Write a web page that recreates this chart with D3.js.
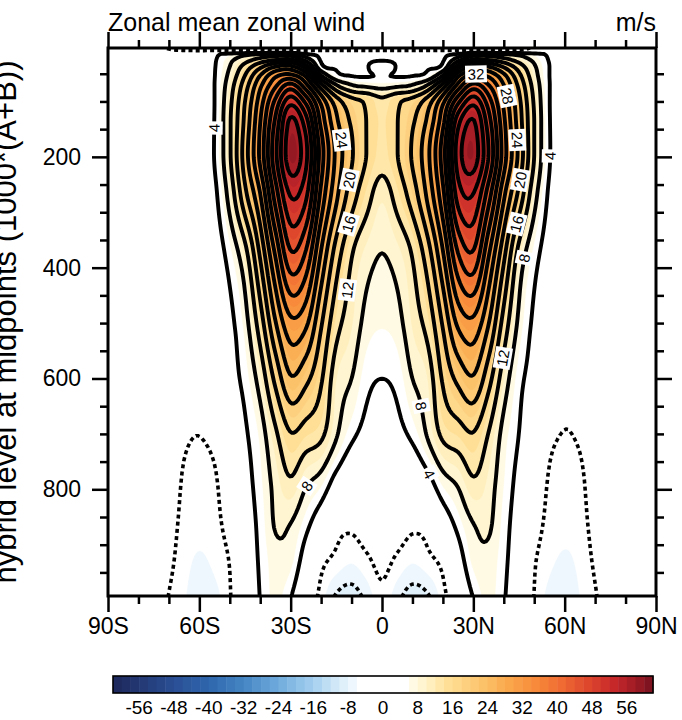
<!DOCTYPE html>
<html><head><meta charset="utf-8">
<script src="https://cdn.jsdelivr.net/npm/d3@7"></script>
<style>
body{margin:0;background:#fff;}
svg{display:block;font-family:"Liberation Sans",Arial,Helvetica,sans-serif;}
</style></head><body>
<svg id="chart" width="682" height="720"></svg>
<script>
// ---------------- DATA ----------------
const levels = [3.54, 7.39, 13.97, 23.94, 37.23, 53.11, 70.06, 100.51, 139.12, 192.54, 266.48, 368.82, 510.46, 600.52, 696.8, 787.7, 867.16, 929.65, 992.56];
const latitudes = [-90,-85,-80,-75,-70,-65,-60,-55,-50,-45,-40,-35,-30,-25,-20,-15,-10,-5,0,5,10,15,20,25,30,35,40,45,50,55,60,65,70,75,80,85,90];
// Southern hemisphere rows: lat 0, -5, ..., -90
const uSouth = [
 [-6,-6,-6,-6,-6,-6,-6,-6,-6,-6,-6,-6,-6,-5.5,-4.5,-2,-1,-0.5,0],
 [-5,-5,-5,-5,-5,-5,-5,-5,-5,-5,-5,-5,-5,-4.5,-3.5,-1.5,-0.5,0,0],
 [2.5,2.5,2.8,3,3.2,3.8,8,8,7.5,6.5,5,3.2,1,0.5,0.3,0.2,0.1,0,0],
 [3.6,3.5,3.0,3.2,3.6,10,16,15,13,10,7,3.6,1,0.5,0.3,0.2,0.1,0,0],
 [5.5,3.85,3.4,3.6,5,18,25,24,19,13.5,8,3.8,1.2,0.6,0.4,0.3,0.2,0.1,0],
 [4.2,3.8,3.9,5,12,27,33,31,24,16,9,3.9,1.2,0.6,0.4,0.3,0.2,0.1,0],
 [6.5,7,8,12,21,33,41,35,27,18,10,4,1.2,0.5,0.3,0.2,0.1,0,0],
 [13,15.5,17.5,22,31,43,50.5,41,30,20,11,4,1.2,0.5,0.3,0.2,0.1,0,0],
 [13.8,15.9,19.5,25,35,50,57,45,32,21,11.5,4.1,1.2,0.5,0.3,0.2,0.1,0,0],
 [13.5,15.9,20.5,27,38,53,58.5,47,33,22,11.5,4.2,1,0.4,0.2,0.1,0,0,0],
 [10.5,13.5,18,25,35,49,52.5,42,28,19,9.5,3.2,0.5,0,0,0,0,0,0],
 [8.1,9.5,12.5,18.5,28,40,44,33,21,11,5.5,2,0,-0.5,-0.3,0,0,0,0],
 [6,6.8,10,13,20,28,30,23,13.5,6.5,3,0.5,-1.5,-1,-0.5,0,0,0,0],
 [4,4.8,8,10,16.5,21,23.5,17,9.5,5,2.5,-0.5,-2.8,-2,-0.8,0,0,0,0],
 [2.5,3,5,8.5,13,14.5,16,11.5,6.5,3.5,0,-2.8,-3.9,-3.3,-1,-0.3,0,0,0],
 [1,0.5,0,2.5,6.5,8.5,11.5,9,5.5,2.5,-1,-4.5,-5.2,-4.5,-1.5,-0.5,0,0,0],
 [-1,-2.2,-3.5,-2.8,1,4.8,7.8,8.2,4.8,1.8,-2.5,-5,-5.6,-5,-2.5,-0.8,-0.2,0,0],
 [-3,-4.6,-5.8,-4.8,-3,2,6.5,7,4.4,1.5,-3.8,-5.6,-6.2,-5.4,-3.2,-1,-0.3,0,0],
 [-4.8,-7.2,-9.2,-8.3,-5,-0.5,4.2,6.5,4.1,1.2,-4.3,-6.6,-7,-5.8,-4.1,-1.5,-0.5,0,0]
];
// Northern hemisphere rows: lat 0, 5, ..., 90
const uNorth = [
 [-6,-6,-6,-6,-6,-6,-6,-6,-6,-5,-3.5,-2,-1,-0.5,0,0,0,0,0],
 [-5,-5,-5,-5,-5,-5,-5,-5,-5,-4.3,-3,-1.5,-0.5,0,0,0,0,0,0],
 [2.5,2.5,2.8,3,3.2,3.8,8,8,7.5,6.5,5,3.3,1,0.5,0.3,0.2,0.1,0,0],
 [3.6,3.5,3.0,3.2,3.6,10,16,15,13,10,7,3.7,1,0.5,0.3,0.2,0.1,0,0],
 [5.5,3.85,3.4,3.6,5,18,25,24,19.5,14,8.5,4,1.2,0.6,0.4,0.3,0.2,0.1,0],
 [4.2,3.8,3.9,5,12,27,33,31,25,17,9.5,4,1.2,0.6,0.4,0.3,0.2,0.1,0],
 [6.5,7,8,12,21,33,41,36,28,19,10.5,4.1,1.2,0.5,0.3,0.2,0.1,0,0],
 [13,15.5,17.5,22,31,43,50.5,42,31,21,11.5,4.1,1.2,0.5,0.3,0.2,0.1,0,0],
 [13.8,15.9,19.5,25,35,51,56.5,46,33,22,12,4.2,1.2,0.5,0.3,0.2,0.1,0,0],
 [13.5,15.9,20.5,27,38,54,58,48,34,23,12,4.3,1,0.4,0.2,0.1,0,0,0],
 [10.5,13.5,18,25,35,50,52,42,29,19,9.5,3.4,0.5,0,0,0,0,0,0],
 [8.1,9.5,12.5,18.5,28,40.5,44,33,21.5,11,5.5,2.2,0,-0.5,-0.3,0,0,0,0],
 [6,6.8,10,13,20,28,30,23.5,14,7,3.2,0.5,-1.5,-1,-0.5,0,0,0,0],
 [4,4.8,8,10,16.5,21,23.5,17.5,10,5,2.5,-0.5,-3.1,-2.2,-0.8,0,0,0,0],
 [2.5,3,5,8.5,13,14.5,16,12,7,4,0.2,-3,-4.05,-3.4,-1,-0.3,0,0,0],
 [1,0.5,0,2.5,6.5,8.5,11.5,9.5,6,2.8,-0.8,-4.4,-5.3,-4.8,-1.8,-0.5,0,0,0],
 [-1,-2.2,-3.5,-2.8,1,4.8,7.8,8.4,5.2,2,-2.3,-5,-5.7,-5.2,-2.8,-0.8,-0.2,0,0],
 [-3,-4.6,-5.8,-4.8,-3,2,6.5,7.2,4.7,1.6,-3.6,-5.6,-6.2,-5.6,-3.5,-1,-0.3,0,0],
 [-4.8,-7.2,-9.2,-8.3,-5,-0.5,4.2,6.6,4.3,1.2,-4.1,-6.6,-7,-6,-4.3,-1.5,-0.5,0,0]
];
const lineLevels = [-8,-4,4,8,12,16,20,24,28,32,36,40,44,48,52,56];
const fillLevels = d3.range(-60, 61, 2);
const labelValues = [4, 24, 20, 16, 12, 8, 32, 28, 24, 20, 16, 4, 8, 12, 8, 4];
const labelLats   = [-54.2, -13.8, -12.2, -12.2, -12.2, -25.3, 31.2, 42, 43.4, 43.4, 42.7, 53.5, 46.3, 40.4, 15.1, 17.4];
const labelPres   = [148, 170, 242, 318, 440, 792, 49, 88, 170, 238, 318, 200, 381, 563, 646, 765];
const xMajor = [-90,-60,-30,0,30,60,90];
const xLabels = ["90S","60S","30S","0","30N","60N","90N"];
const xMinor = [-80,-70,-50,-40,-20,-10,10,20,40,50,70,80];
const yMajor = [200,400,600,800];
const yMinor = [50,100,150,250,300,350,450,500,550,650,700,750,850,900,950];
const cbLabels = [-56,-48,-40,-32,-24,-16,-8,0,8,16,24,32,40,48,56];
const paletteValues = [-61,-48,-40,-32,-24,-16,-11,-9,-7,-5,5,7,11,15,19,23,29,35,41,47,53,57,61];
const paletteColors = ["#1e2a5e","#2a4f95","#2f66ad","#4586c4","#6fabdc","#a5d0ef","#cfe7f7","#e0f0fa","#eef7fd","#ffffff","#ffffff","#fffae3","#ffefbe","#fedf95","#fdd080","#fcc26a","#faa64b","#f78a3b","#ef6b33","#df472d","#c6282a","#a81e26","#7f1420"];

// ---------------- LAYOUT ----------------
const X0 = 108, X1 = 656, Y0 = 48, Y1 = 596;
const FONT = '"Liberation Sans",Arial,Helvetica,sans-serif';
const x = d3.scaleLinear().domain([-90, 90]).range([X0, X1]);
const y = d3.scaleLinear().domain(d3.extent(levels)).range([Y0, Y1]);
const color = d3.scaleLinear().domain(paletteValues).range(paletteColors).interpolate(d3.interpolateRgb);
const svg = d3.select("#chart");

// ---------------- FIELD ON FINE GRID ----------------
const uGrid = levels.map((p, k) => uSouth[k].slice(1).reverse().concat(uNorth[k]));
const nLat = latitudes.length;

function steffenTangents(xs, ys) {
  const n = xs.length, h = [], s = [], m = new Array(n);
  for (let i = 0; i < n - 1; i++) { h[i] = xs[i+1] - xs[i]; s[i] = (ys[i+1] - ys[i]) / h[i]; }
  m[0] = s[0]; m[n-1] = s[n-2];
  for (let i = 1; i < n - 1; i++) {
    const p = (s[i-1]*h[i] + s[i]*h[i-1]) / (h[i-1] + h[i]);
    m[i] = (Math.sign(s[i-1]) + Math.sign(s[i])) * Math.min(Math.abs(s[i-1]), Math.abs(s[i]), 0.5*Math.abs(p));
  }
  return m;
}
function hermite(xs, ys, m, xv) {
  let i = d3.bisectRight(xs, xv) - 1;
  i = Math.max(0, Math.min(xs.length - 2, i));
  const h = xs[i+1] - xs[i], t = Math.max(0, Math.min(1, (xv - xs[i]) / h)), t2 = t*t, t3 = t2*t;
  return (2*t3 - 3*t2 + 1)*ys[i] + (t3 - 2*t2 + t)*h*m[i] + (-2*t3 + 3*t2)*ys[i+1] + (t3 - t2)*h*m[i+1];
}
function catmull(v, f) {
  const n = v.length;
  let i = Math.floor(f); i = Math.max(0, Math.min(n - 2, i));
  const t = f - i;
  const p0 = v[Math.max(i-1, 0)], p1 = v[i], p2 = v[i+1], p3 = v[Math.min(i+2, n-1)];
  return 0.5*((2*p1) + (-p0 + p2)*t + (2*p0 - 5*p1 + 4*p2 - p3)*t*t + (-p0 + 3*p1 - 3*p2 + p3)*t*t*t);
}

const step = 2;
const nx = Math.round((X1 - X0)/step) + 1, ny = Math.round((Y1 - Y0)/step) + 1;
const cols = d3.range(nLat).map(c => levels.map((_, k) => uGrid[k][c]));
const tans = cols.map(col => steffenTangents(levels, col));
const values = new Float64Array(nx*ny);
for (let j = 0; j < ny; j++) {
  const p = y.invert(Y0 + j*step);
  const colv = cols.map((col, c) => hermite(levels, col, tans[c], p));
  for (let i = 0; i < nx; i++) {
    const lat = x.invert(X0 + i*step);
    values[j*nx + i] = catmull(colv, (lat - latitudes[0]) / (latitudes[1] - latitudes[0]));
  }
}

const gen = d3.contours().size([nx, ny]).smooth(true);
const toScreen = (gx, gy) => [X0 + (gx - 0.5)*step, Y0 + (gy - 0.5)*step];
const proj = d3.geoTransform({ point(px, py) { const s = toScreen(px, py); this.stream.point(s[0], s[1]); } });
const path = d3.geoPath(proj);

svg.append("defs").append("clipPath").attr("id", "plotclip")
  .append("rect").attr("x", X0).attr("y", Y0).attr("width", X1 - X0).attr("height", Y1 - Y0);
const plot = svg.append("g").attr("clip-path", "url(#plotclip)");

plot.append("rect").attr("x", X0).attr("y", Y0).attr("width", X1 - X0).attr("height", Y1 - Y0)
  .attr("fill", color(-61));
fillLevels.forEach(t => {
  const mp = gen.contour(values, t);
  if (!mp.coordinates.length) return;
  plot.append("path").attr("d", path(mp)).attr("fill", color(t + 1)).attr("stroke", color(t + 1)).attr("stroke-width", 0.4);
});

// contour lines without the grid border segments
function contourLines(v) {
  const mp = gen.contour(values, v);
  const out = [];
  const onB = (a, b) => (a[0] <= 0 && b[0] <= 0) || (a[0] >= nx && b[0] >= nx) || (a[1] <= 0 && b[1] <= 0) || (a[1] >= ny && b[1] >= ny);
  mp.coordinates.forEach(poly => poly.forEach(ring => {
    const pieces = []; let cur = []; let anyB = false;
    for (let k = 0; k < ring.length - 1; k++) {
      const a = ring[k], b = ring[k+1];
      if (onB(a, b)) { anyB = true; if (cur.length > 1) pieces.push(cur); cur = []; continue; }
      if (!cur.length) cur.push(a);
      cur.push(b);
    }
    if (cur.length > 1) pieces.push(cur);
    if (anyB && pieces.length > 1 && !onB(ring[0], ring[1]) && !onB(ring[ring.length-2], ring[ring.length-1])) {
      const last = pieces.pop();
      pieces[0] = last.concat(pieces[0].slice(1));
    }
    pieces.forEach(pc => out.push(pc.map(q => toScreen(q[0], q[1]))));
  }));
  return out;
}
const lineGen = d3.line();
const linesByValue = new Map();
lineLevels.forEach(v => {
  const ls = contourLines(v);
  linesByValue.set(v, ls);
  ls.forEach(l => {
    plot.append("path").attr("d", lineGen(l)).attr("fill", "none").attr("stroke", "#000")
      .attr("stroke-width", v < 0 ? 3.6 : 3.9).attr("stroke-linejoin", "round")
      .attr("stroke-dasharray", v < 0 ? "4,3.2" : null)
      .attr("stroke-linecap", v < 0 ? "butt" : "round");
  });
});

// contour labels
labelValues.forEach((v, idx) => {
  const ls = linesByValue.get(v) || [];
  const tx = x(labelLats[idx]), ty = y(labelPres[idx]);
  let best = null, bd = Infinity;
  ls.forEach(l => l.forEach((pt, k) => {
    const d = (pt[0]-tx)**2 + (pt[1]-ty)**2;
    if (d < bd) { bd = d; best = { l, k }; }
  }));
  if (!best) return;
  const l = best.l, k = best.k;
  const a = l[Math.max(0, k - 3)], b = l[Math.min(l.length - 1, k + 3)];
  let ang = Math.atan2(b[1] - a[1], b[0] - a[0]) * 180 / Math.PI;
  if (ang > 90) ang -= 180; if (ang <= -90) ang += 180;
  const g = plot.append("g").attr("transform", `translate(${l[k][0]},${l[k][1]}) rotate(${ang})`);
  const rect = g.append("rect");
  const txt = g.append("text").attr("text-anchor", "middle").attr("dy", "0.36em")
    .attr("font-size", 15).attr("font-family", FONT).text(v);
  const w = txt.node().getComputedTextLength() + 5;
  rect.attr("x", -w/2).attr("y", -8.5).attr("width", w).attr("height", 17).attr("fill", "#fff");
});

// frame
svg.append("rect").attr("x", X0).attr("y", Y0).attr("width", X1 - X0).attr("height", Y1 - Y0)
  .attr("fill", "none").attr("stroke", "#000").attr("stroke-width", 3);

// axes
function styleAxis(g) {
  g.select(".domain").remove();
  g.attr("font-family", FONT).attr("font-size", 23);
  g.selectAll(".tick line").attr("stroke", "#000").attr("stroke-width", 2.5);
  g.selectAll(".tick text").attr("fill", "#000");
}
const MAJ = 16, MIN = 8;
svg.append("g").attr("transform", `translate(0,${Y1})`)
  .call(d3.axisBottom(x).tickValues(xMajor).tickFormat((d, i) => xLabels[i]).tickSize(MAJ).tickPadding(6)).call(styleAxis);
svg.append("g").attr("transform", `translate(0,${Y1})`)
  .call(d3.axisBottom(x).tickValues(xMinor).tickFormat("").tickSize(MIN)).call(styleAxis);
svg.append("g").attr("transform", `translate(0,${Y0})`)
  .call(d3.axisTop(x).tickValues(xMajor).tickFormat("").tickSize(MAJ)).call(styleAxis);
svg.append("g").attr("transform", `translate(0,${Y0})`)
  .call(d3.axisTop(x).tickValues(xMinor).tickFormat("").tickSize(MIN)).call(styleAxis);
svg.append("g").attr("transform", `translate(${X0},0)`)
  .call(d3.axisLeft(y).tickValues(yMajor).tickFormat(d3.format("d")).tickSize(MAJ).tickPadding(11)).call(styleAxis);
svg.append("g").attr("transform", `translate(${X0},0)`)
  .call(d3.axisLeft(y).tickValues(yMinor).tickFormat("").tickSize(MIN)).call(styleAxis);
svg.append("g").attr("transform", `translate(${X1},0)`)
  .call(d3.axisRight(y).tickValues(yMajor).tickFormat("").tickSize(MAJ)).call(styleAxis);
svg.append("g").attr("transform", `translate(${X1},0)`)
  .call(d3.axisRight(y).tickValues(yMinor).tickFormat("").tickSize(MIN)).call(styleAxis);

// titles
svg.append("text").attr("x", X0).attr("y", 31).attr("font-size", 25).attr("font-family", FONT).text("Zonal mean zonal wind");
svg.append("text").attr("x", X1).attr("y", 31).attr("text-anchor", "end").attr("font-size", 25).attr("font-family", FONT).text("m/s");
svg.append("text").attr("transform", `translate(16,${(Y0 + Y1)/2}) rotate(-90)`).attr("text-anchor", "middle")
  .attr("font-size", 31).attr("font-family", FONT).text("hybrid level at midpoints (1000*(A+B))");

// colorbar
const cb = d3.scaleLinear().domain([-62, 62]).range([113, 653]);
const CB0 = 676, CB1 = 693;
const boxes = d3.range(62).map(i => -62 + 2*i);
svg.append("g").selectAll("rect").data(boxes).join("rect")
  .attr("x", d => cb(d)).attr("y", CB0).attr("width", d => cb(d + 2) - cb(d) + 0.5).attr("height", CB1 - CB0)
  .attr("fill", d => color(d + 1));
svg.append("rect").attr("x", cb(-62)).attr("y", CB0).attr("width", cb(62) - cb(-62)).attr("height", CB1 - CB0)
  .attr("fill", "none").attr("stroke", "#000").attr("stroke-width", 1.6);
svg.append("g").selectAll("text").data(cbLabels).join("text")
  .attr("x", d => cb(d)).attr("y", 714).attr("text-anchor", "middle").attr("font-size", 19).attr("font-family", FONT)
  .text(d => d);
</script>
</body></html>
